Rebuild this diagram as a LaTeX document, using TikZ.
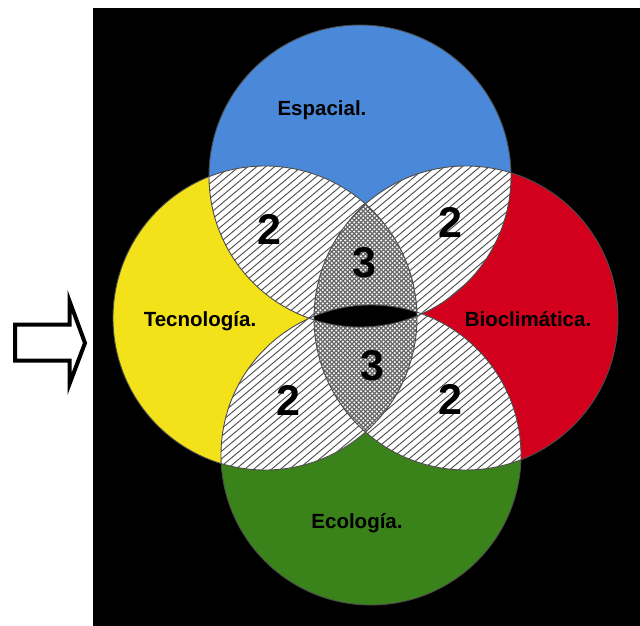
\documentclass[tikz,border=0pt]{standalone}
\usepackage{fontspec}
\setmainfont{Liberation Sans}
\definecolor{cblue}{RGB}{74,137,218}
\definecolor{cyellow}{RGB}{243,226,25}
\definecolor{cred}{RGB}{210,0,28}
\definecolor{cgreen}{RGB}{58,130,26}
\newcommand{\hatchfill}{%
  \fill[white] (80,0) rectangle (640,626);
  \foreach \c in {0,7.5,...,1100} {\draw[hatchline] (80,\c) -- (640,{\c-470});}}
\begin{document}
\begin{tikzpicture}[x=1pt,y=-1pt]
\tikzset{
  hatchline/.style={draw=black!70, line width=0.9pt},
  xline/.style={draw=black!60, line width=1.2pt},
  rim/.style={draw=black!70, line width=0.9pt},
  lbl/.style={font=\fontsize{20.5}{24}\selectfont\bfseries, inner sep=0pt, anchor=base},
  num/.style={font=\fontsize{43}{48}\selectfont\bfseries, inner sep=0pt},
  arrowshape/.style={draw=black, fill=white, line width=4pt, line join=miter}
}
\useasboundingbox (0,0) rectangle (640,626);
\fill[black] (93,8) rectangle (640,626);

\coordinate (cB) at (360,176);
\coordinate (cG) at (371,455);
\coordinate (cY) at (265,318);
\coordinate (cR) at (466,318);

% colored circles
\fill[cblue] (cB) circle (151pt);
\fill[cgreen] (cG) circle (150pt);
\fill[cyellow] (cY) circle (152pt);
\fill[cred] (cR) circle (152pt);

% hatched pairwise overlaps
\begin{scope}\clip (cB) circle (151pt); \clip (cY) circle (152pt); \hatchfill\end{scope}
\begin{scope}\clip (cB) circle (151pt); \clip (cR) circle (152pt); \hatchfill\end{scope}
\begin{scope}\clip (cG) circle (150pt); \clip (cY) circle (152pt); \hatchfill\end{scope}
\begin{scope}\clip (cG) circle (150pt); \clip (cR) circle (152pt); \hatchfill\end{scope}
\begin{scope}\clip (cB) circle (151pt); \clip (cG) circle (150pt); \hatchfill\end{scope}

% cross-hatched central lens
\begin{scope}
  \clip (cY) circle (152pt); \clip (cR) circle (152pt);
  \fill[white] (290,190) rectangle (440,450);
  \foreach \c in {480,484.5,...,900} {\draw[xline] (290,{\c-290}) -- (440,{\c-440});}
  \foreach \d in {-260,-255.5,...,170} {\draw[xline] (290,{\d+290}) -- (440,{\d+440});}
\end{scope}

% quadruple overlap
\begin{scope}
  \clip (cY) circle (152pt); \clip (cR) circle (152pt);
  \clip (cB) circle (151pt); \clip (cG) circle (150pt);
  \fill[black] (290,190) rectangle (440,450);
\end{scope}

% outlines
\draw[rim] (cB) circle (151pt);
\draw[rim] (cG) circle (150pt);
\draw[rim] (cY) circle (152pt);
\draw[rim] (cR) circle (152pt);

% labels
\node[lbl] (esp) at (322,115) {Espacial.};
\node[lbl] (tec) at (200,326) {Tecnología.};
\node[lbl] (bio) at (528,326) {Bioclimática.};
\node[lbl] (eco) at (357,528) {Ecología.};

\node[num] (n1) at (269,229) {2};
\node[num] (n2) at (450,222) {2};
\node[num] (n3) at (364,263) {3};
\node[num] (n4) at (372,366) {3};
\node[num] (n5) at (288,400) {2};
\node[num] (n6) at (450,399) {2};

% outlined arrow
\draw[arrowshape] (15,324.5) -- (69.5,324.5) -- (69.5,301) -- (85,343) -- (69.5,384) -- (69.5,360.5) -- (15,360.5) -- cycle;
\end{tikzpicture}
\end{document}
